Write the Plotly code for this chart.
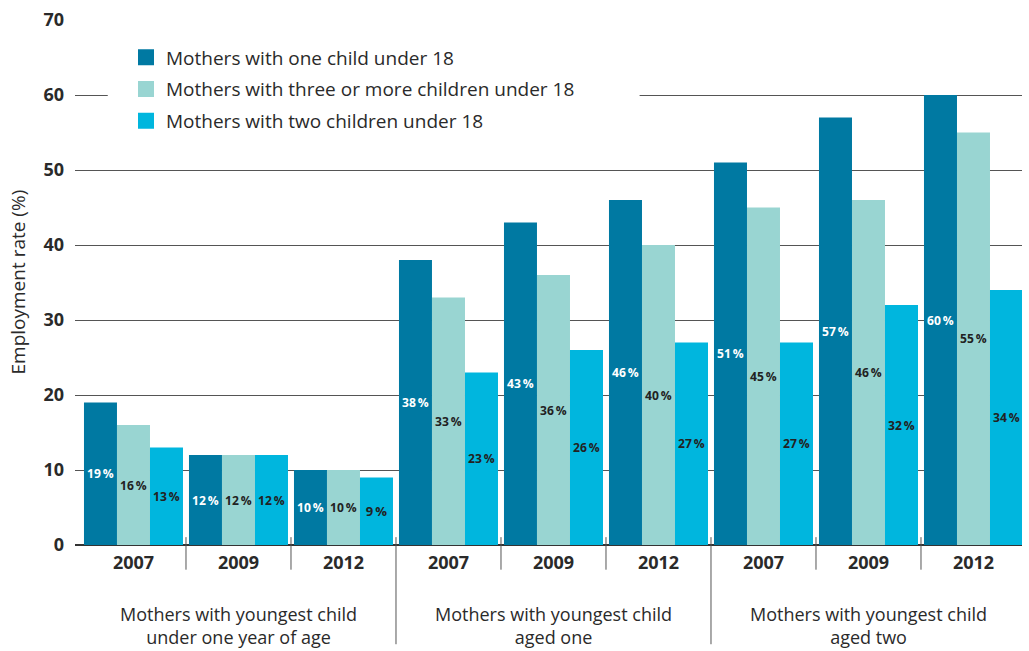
import plotly.graph_objects as go

# Employment rate of mothers by age of youngest child and survey year
years = ["2007", "2009", "2012", "2007", "2009", "2012", "2007", "2009", "2012"]
group_labels = [
    "Mothers with youngest child<br>under one year of age",
    "Mothers with youngest child<br>aged one",
    "Mothers with youngest child<br>aged two",
]
series_names = [
    "Mothers with one child under 18",
    "Mothers with three or more children under 18",
    "Mothers with two children under 18",
]
one_child = [19, 12, 10, 38, 43, 46, 51, 57, 60]
three_plus = [16, 12, 10, 33, 36, 40, 45, 46, 55]
two_children = [13, 12, 9, 23, 26, 27, 27, 32, 34]

colors = ["#0079A2", "#99D5D2", "#00B6DE"]
text_colors = ["white", "#222222", "#222222"]
FONT = "Open Sans"
INK = "#2a2a2a"
PLOT_H = 530  # plot area height in px, used for paper offsets below the axis

x = list(range(len(years)))
fig = go.Figure()
for name, vals, col, tcol in zip(series_names, [one_child, three_plus, two_children], colors, text_colors):
    fig.add_trace(go.Bar(
        x=x, y=vals, name=name, marker=dict(color=col, line=dict(width=0)),
        text=[f"{v}\u2009%" for v in vals], textposition="inside",
        insidetextanchor="middle", textangle=0,
        textfont=dict(family=FONT, size=13, color=tcol, weight="bold"),
        showlegend=False,
    ))

# legend entries with larger square swatches
for i, (name, col) in enumerate(zip(series_names, colors)):
    fig.add_trace(go.Scatter(
        x=[None], y=[None], mode="markers", name=name, legendgroup=f"g{i}",
        marker=dict(symbol="square", size=16, color=col),
    ))

shapes = [
    # white panel behind the legend, hiding the gridline it sits on
    dict(type="rect", xref="x", yref="y", x0=-0.245, x1=4.82, y0=52, y1=68,
         fillcolor="white", line=dict(width=0), layer="between"),
]
# short separators between years, long separators between groups
for b in [0.5, 1.5, 3.5, 4.5, 6.5, 7.5]:
    shapes.append(dict(type="line", xref="x", yref="paper", x0=b, x1=b, y0=0.015, y1=-0.047,
                       line=dict(color="#555555", width=1)))
for b in [2.5, 5.5]:
    shapes.append(dict(type="line", xref="x", yref="paper", x0=b, x1=b, y0=0.015, y1=-0.189,
                       line=dict(color="#555555", width=1)))

annotations = []
for i, lab in enumerate(group_labels):
    annotations.append(dict(x=3 * i + 1, y=-81 / PLOT_H, xref="x", yref="paper", text=lab,
                            showarrow=False, yanchor="middle", align="center",
                            font=dict(family=FONT, size=18, color=INK)))
annotations.append(dict(x=-58 / 947, y=0.5, xref="paper", yref="paper",
                        text="Employment rate (%)", textangle=-90, showarrow=False,
                        xanchor="center", yanchor="middle",
                        font=dict(family=FONT, size=19, color=INK)))

fig.update_layout(
    width=1029, height=651,
    margin=dict(l=75, r=7, t=15, b=106),
    paper_bgcolor="white", plot_bgcolor="white",
    barmode="group", bargap=0.057, bargroupgap=0,
    font=dict(family=FONT, color=INK),
    showlegend=True,
    legend=dict(x=51 / 947, y=0.965, xanchor="left", yanchor="top",
                bgcolor="white", font=dict(family=FONT, size=19, color=INK),
                itemwidth=30, tracegroupgap=4, borderwidth=0),
    xaxis=dict(range=[-0.557, 8.462], tickmode="array", tickvals=x, ticktext=years,
               tickfont=dict(family=FONT, size=18, color=INK, weight="bold"),
               showgrid=False, ticks="", showline=False, zeroline=False,
               ticklabelstandoff=5),
    yaxis=dict(range=[0, 70], dtick=10, showgrid=True, gridcolor="#555555", gridwidth=1,
               zeroline=True, zerolinecolor="#333333", zerolinewidth=2,
               tickfont=dict(family=FONT, size=18, color=INK, weight="bold"),
               ticks="", ticklabelstandoff=10),
    shapes=shapes, annotations=annotations,
)

fig.write_html("out.html")
